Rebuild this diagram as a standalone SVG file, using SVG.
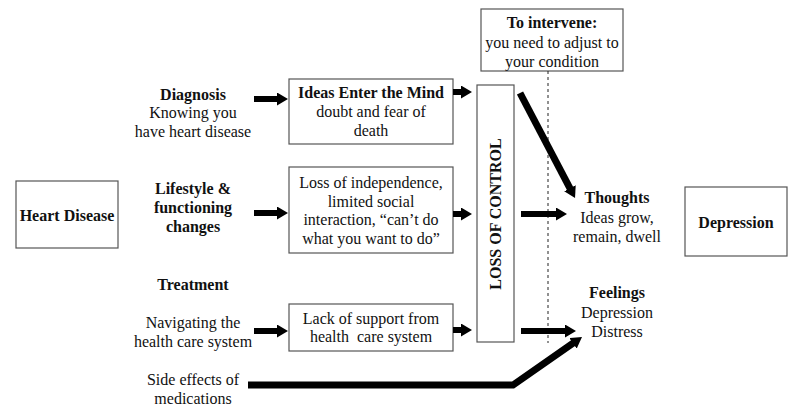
<svg xmlns="http://www.w3.org/2000/svg" width="800" height="418" viewBox="0 0 800 418">
<style>
text{font-family:"Liberation Serif","Times New Roman",serif;font-size:16px;fill:#111;text-anchor:middle}
.b{font-weight:bold}
.box{fill:#fff;stroke:#555;stroke-width:1.2}
.arr{fill:none;stroke:#000;stroke-width:6;marker-end:url(#ah)}
.thick{stroke-width:7}
</style>
<defs>
<marker id="ah" markerUnits="userSpaceOnUse" markerWidth="11" markerHeight="13" refX="1" refY="6.5" orient="auto">
<path d="M0,0 L11,6.5 L0,13 z" fill="#000"/>
</marker>
</defs>
<rect width="800" height="418" fill="#fff"/>

<g id="heart-disease">
<rect class="box" x="16" y="181" width="102" height="67"/>
<text class="b" x="67" y="221">Heart Disease</text>
</g>

<g id="diagnosis">
<text class="b" x="193" y="100">Diagnosis</text>
<text x="193" y="118">Knowing you</text>
<text x="193" y="137">have heart disease</text>
</g>

<g id="lifestyle">
<text class="b" x="193" y="194">Lifestyle &amp;</text>
<text class="b" x="193" y="213">functioning</text>
<text class="b" x="193" y="232">changes</text>
</g>

<g id="treatment">
<text class="b" x="193" y="290">Treatment</text>
</g>

<g id="navigating">
<text x="193" y="328">Navigating the</text>
<text x="193" y="347">health care system</text>
</g>

<g id="side-effects">
<text x="193" y="385">Side effects of</text>
<text x="193" y="404">medications</text>
</g>

<g id="ideas-box">
<rect class="box" x="289" y="79" width="164" height="65"/>
<text class="b" x="371" y="98">Ideas Enter the Mind</text>
<text x="371" y="117">doubt and fear of</text>
<text x="371" y="136">death</text>
</g>

<g id="loss-independence-box">
<rect class="box" x="289" y="167" width="164" height="86"/>
<text x="371" y="188">Loss of independence,</text>
<text x="371" y="206.5">limited social</text>
<text x="371" y="225">interaction, “can’t do</text>
<text x="371" y="243.5">what you want to do”</text>
</g>

<g id="lack-support-box">
<rect class="box" x="289" y="304" width="164" height="47"/>
<text x="371" y="324">Lack of support from</text>
<text x="371" y="342" xml:space="preserve">health  care system</text>
</g>

<g id="loss-of-control">
<rect class="box" x="477" y="85" width="37" height="257"/>
<text class="b" transform="translate(501,214) rotate(-90)">LOSS OF CONTROL</text>
</g>

<g id="intervene">
<rect class="box" x="481" y="9" width="142" height="62"/>
<text class="b" x="552" y="28">To intervene:</text>
<text x="552" y="48">you need to adjust to</text>
<text x="552" y="67">your condition</text>
</g>

<g id="thoughts">
<text class="b" x="617" y="203">Thoughts</text>
<text x="617" y="223">Ideas grow,</text>
<text x="617" y="242">remain, dwell</text>
</g>

<g id="feelings">
<text class="b" x="617" y="298">Feelings</text>
<text x="617" y="318">Depression</text>
<text x="617" y="337">Distress</text>
</g>

<g id="depression">
<rect class="box" x="685" y="187" width="102" height="69"/>
<text class="b" x="736" y="228">Depression</text>
</g>

<g id="connectors">
<line x1="548" y1="71" x2="548" y2="343" stroke="#222" stroke-width="1" stroke-dasharray="3,3"/>
<path class="arr" d="M254,99 H278"/>
<path class="arr" d="M254,213 H278"/>
<path class="arr" d="M254,331 H278"/>
<path class="arr" d="M453,92 H462"/>
<path class="arr" d="M453,214 H462"/>
<path class="arr" d="M453,330 H462"/>
<path class="arr" d="M521,214 H557"/>
<path class="arr" d="M521,331 H566"/>
<path class="arr thick" d="M520,93 L570.4,189.2"/>
<path class="arr thick" d="M248,385 L513,385 L573.8,342.7" stroke-linejoin="miter"/>
</g>
</svg>
